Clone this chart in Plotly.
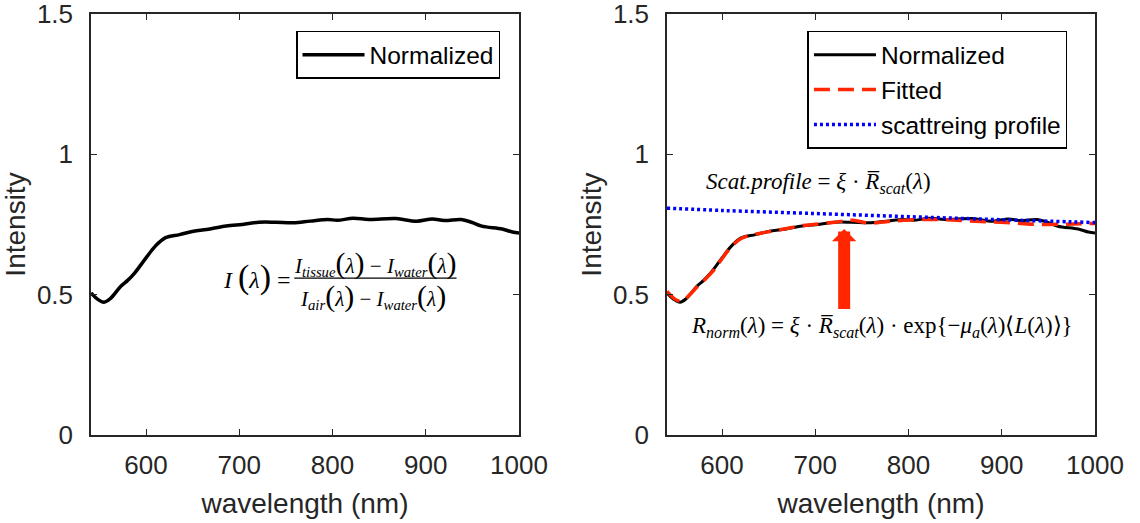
import plotly.graph_objects as go

# ---------------- data ----------------
wavelength = [541, 548, 555, 562, 573, 580, 588, 600, 610, 621, 636, 651, 665, 684, 700,
              721, 739, 758, 776, 795, 805, 822, 839, 868, 890, 907, 920, 938, 949, 960,
              982, 993, 1000]
normalized = [0.506, 0.484, 0.473, 0.487, 0.530, 0.550, 0.578, 0.631, 0.673, 0.703, 0.714,
              0.726, 0.732, 0.744, 0.749, 0.758, 0.758, 0.756, 0.762, 0.768, 0.765, 0.772,
              0.768, 0.771, 0.762, 0.770, 0.764, 0.768, 0.758, 0.744, 0.734, 0.723, 0.720]

fit_wavelength = [541, 555, 575, 590, 600, 610, 621, 636, 651, 665, 684, 700, 721, 740,
                  758, 776, 795, 820, 840, 865, 890, 915, 940, 965, 985, 1000]
fitted = [0.512, 0.477, 0.533, 0.583, 0.628, 0.671, 0.701, 0.715, 0.725, 0.733, 0.745,
          0.751, 0.758, 0.765, 0.755, 0.760, 0.765, 0.768, 0.767, 0.763, 0.759, 0.755,
          0.750, 0.751, 0.753, 0.754]

scat_wavelength = [541, 600, 700, 800, 900, 1000]
scat_profile = [0.808, 0.800, 0.789, 0.778, 0.767, 0.757]

x_ticks = [600, 700, 800, 900, 1000]
y_ticks = [0, 0.5, 1, 1.5]
y_ticktext = ["0", "0.5", "1", "1.5"]

# arrow (annotation) anchor values
arrow_wl = 731
arrow_tip = 0.734
arrow_tail = 0.444

AX = "#262626"
RED = "rgb(255,38,0)"
SANS = "Liberation Sans, Arial, Helvetica, sans-serif"
SERIF = "Liberation Serif, Times New Roman, serif"

fig = go.Figure()

# left panel
fig.add_trace(go.Scatter(x=wavelength, y=normalized, mode="lines", name="Normalized",
                         line=dict(color="black", width=3.5, shape="spline"),
                         xaxis="x", yaxis="y", legend="legend"))

# right panel
fig.add_trace(go.Scatter(x=wavelength, y=normalized, mode="lines", name="Normalized",
                         line=dict(color="black", width=3, shape="spline"),
                         xaxis="x2", yaxis="y2", legend="legend2"))
fig.add_trace(go.Scatter(x=fit_wavelength, y=fitted, mode="lines", name="Fitted",
                         line=dict(color=RED, width=3.5, dash="16px,8px", shape="spline"),
                         xaxis="x2", yaxis="y2", legend="legend2"))
fig.add_trace(go.Scatter(x=scat_wavelength, y=scat_profile, mode="lines",
                         name="scattreing profile",
                         line=dict(color="blue", width=3.5, dash="3px,3px", shape="spline"),
                         xaxis="x2", yaxis="y2", legend="legend2"))

axis_common = dict(showgrid=False, zeroline=False, showline=True, linecolor=AX, linewidth=1.5,
                   mirror="ticks", ticks="inside", ticklen=6, tickwidth=1.3, tickcolor=AX,
                   automargin=False, ticklabeloverflow="allow",
                   tickfont=dict(family=SANS, size=26, color=AX))
xcommon = dict(axis_common, range=[541, 1000], tickvals=x_ticks, ticklabelstandoff=6,
               title=dict(text="wavelength (nm)", font=dict(family=SANS, size=28, color=AX),
                          standoff=14))
ycommon = dict(axis_common, range=[0, 1.5], tickvals=y_ticks, ticktext=y_ticktext,
               ticklabelstandoff=11,
               title=dict(text="Intensity", font=dict(family=SANS, size=28, color=AX),
                          standoff=3))

legend_common = dict(bgcolor="white", bordercolor="black", borderwidth=1.5,
                     font=dict(family=SANS, size=24.5, color="black"),
                     itemwidth=62, xanchor="left", yanchor="top", tracegroupgap=0)

fig.update_layout(
    width=1140, height=523,
    margin=dict(l=91, r=45, t=14, b=88),
    paper_bgcolor="white", plot_bgcolor="white",
    showlegend=True,
    xaxis=dict(xcommon, domain=[0, 0.4263], anchor="y"),
    yaxis=dict(ycommon, domain=[0, 1], anchor="x"),
    xaxis2=dict(xcommon, domain=[0.5737, 1.0], anchor="y2"),
    yaxis2=dict(ycommon, domain=[0, 1], anchor="x2"),
    legend=dict(legend_common, x=0.2042, y=0.96),
    legend2=dict(legend_common, x=0.7136, y=0.96),
)

# ---------- formulas (text) ----------
def big(s, size=30):
    return f'<span style="font-size:{size}px">{s}</span>'

fig.add_annotation(xref="x", yref="y", x=719, y=0.562, showarrow=False,
                   text=f"<i>I</i> {big('(', 34)}<i>λ</i>{big(')', 34)} =",
                   font=dict(family=SERIF, size=24, color="black"))
fig.add_annotation(xref="x", yref="y", x=846, y=0.612, showarrow=False,
                   text=f"<i>I<sub>tissue</sub></i>{big('(')}<i>λ</i>{big(')')} − <i>I<sub>water</sub></i>{big('(')}<i>λ</i>{big(')')}",
                   font=dict(family=SERIF, size=21, color="black"))
fig.add_annotation(xref="x", yref="y", x=843, y=0.497, showarrow=False,
                   text=f"<i>I<sub>air</sub></i>{big('(')}<i>λ</i>{big(')')} − <i>I<sub>water</sub></i>{big('(')}<i>λ</i>{big(')')}",
                   font=dict(family=SERIF, size=21, color="black"))
fig.add_shape(type="line", xref="x", yref="y", x0=759, x1=933, y0=0.559, y1=0.559,
              line=dict(color="black", width=1.2))

fig.add_annotation(xref="x2", yref="y2", x=703, y=0.899, showarrow=False,
                   text="<i>Scat.profile</i> = <i>ξ</i> · <i>R̅<sub>scat</sub></i>(<i>λ</i>)",
                   font=dict(family=SERIF, size=23, color="black"))
fig.add_annotation(xref="x2", yref="y2", x=772, y=0.386, showarrow=False,
                   text="<i>R<sub>norm</sub></i>(<i>λ</i>) = <i>ξ</i> · <i>R̅<sub>scat</sub></i>(<i>λ</i>) · exp{−<i>μ<sub>a</sub></i>(<i>λ</i>)⟨<i>L</i>(<i>λ</i>)⟩}",
                   font=dict(family=SERIF, size=23, color="black"))

# red arrow
fig.add_annotation(xref="x2", yref="y2", axref="x2", ayref="y2",
                   x=arrow_wl, y=arrow_tip, ax=arrow_wl, ay=arrow_tail, text="",
                   showarrow=True, arrowhead=1, arrowsize=0.34, arrowwidth=12,
                   arrowcolor=RED, standoff=0, startstandoff=0)

# remove the browser's default 8px body margin so the figure fills the window exactly
fig.write_html("out.html", config={"displayModeBar": False},
               post_script="document.body.style.margin='0px';")
